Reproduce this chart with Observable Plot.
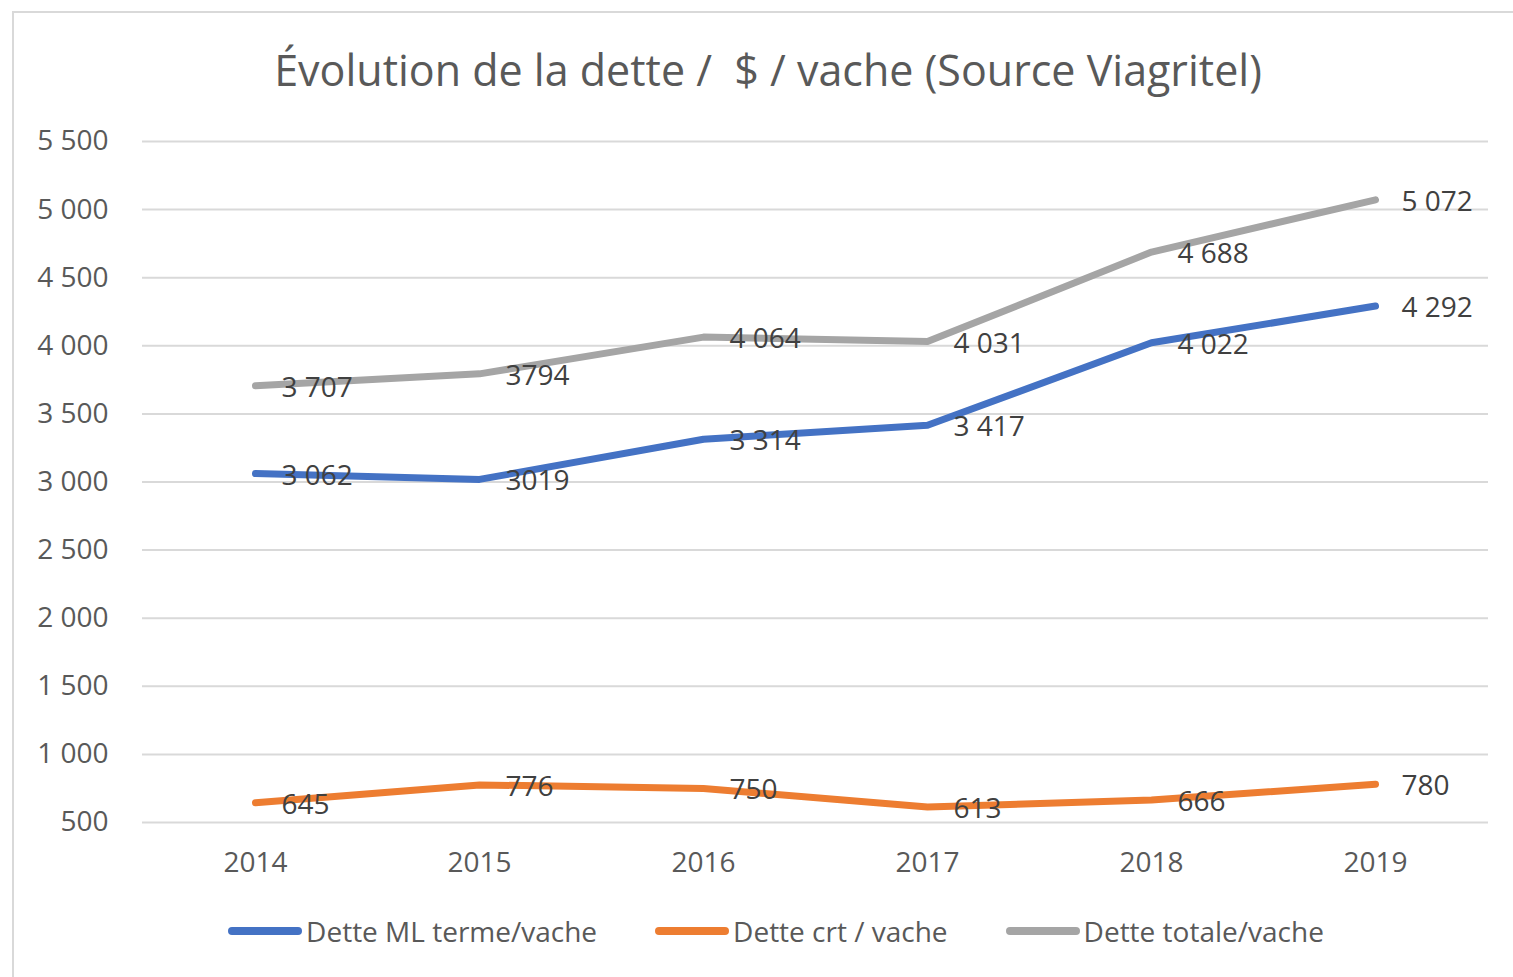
<!DOCTYPE html>
<html>
<head>
<meta charset="utf-8">
<script src="https://cdn.jsdelivr.net/npm/d3@7"></script>
<script src="https://cdn.jsdelivr.net/npm/@observablehq/plot@0.6"></script>
<style>
  html, body { margin: 0; padding: 0; width: 1513px; height: 977px; overflow: hidden; background: #fff; font-family: "Open Sans", "DejaVu Sans", sans-serif; }
  #frame { position: absolute; left: 12px; top: 11px; width: 1600px; height: 1000px; border: 2px solid #d9d9d9; box-sizing: border-box; }
  #title { position: absolute; left: 0; width: 1536px; top: 40px; text-align: center; font-size: 43px; color: #595959; line-height: 60px; white-space: pre; }
  #chart { position: absolute; left: 0; top: 110px; }
  #legend { position: absolute; left: 0; width: 1552px; top: 912px; display: flex; justify-content: center; gap: 58px; font-size: 28px; color: #595959; }
  .item { display: flex; align-items: center; gap: 4px; }
  .item svg { display: block; }
</style>
</head>
<body>
<div id="frame"></div>
<div id="title">Évolution de la dette /  $ / vache (Source Viagritel)</div>
<div id="chart"></div>
<div id="legend"></div>
<script>
const years = ["2014", "2015", "2016", "2017", "2018", "2019"];
const seriesNames = ["Dette ML terme/vache", "Dette crt / vache", "Dette totale/vache"];
const seriesColors = ["#4472C4", "#ED7D31", "#A5A5A5"];
const detteML = [3062, 3019, 3314, 3417, 4022, 4292];
const detteCrt = [645, 776, 750, 613, 666, 780];
const detteTotale = [3707, 3794, 4064, 4031, 4688, 5072];
const labelsML = ["3 062", "3019", "3 314", "3 417", "4 022", "4 292"];
const labelsCrt = ["645", "776", "750", "613", "666", "780"];
const labelsTotale = ["3 707", "3794", "4 064", "4 031", "4 688", "5 072"];
const yTicks = [500, 1000, 1500, 2000, 2500, 3000, 3500, 4000, 4500, 5000, 5500];

const seriesValues = [detteML, detteCrt, detteTotale];
const seriesLabels = [labelsML, labelsCrt, labelsTotale];
const data = [];
seriesNames.forEach((s, i) => {
  years.forEach((y, j) => {
    data.push({series: s, year: y, value: seriesValues[i][j], label: seriesLabels[i][j]});
  });
});

const fr = d3.formatLocale({decimal: ",", thousands: " ", grouping: [3], currency: ["", ""]});
const fmt = fr.format(",d");

const chart = Plot.plot({
  width: 1513,
  height: 790,
  marginLeft: 142,
  marginRight: 25,
  marginTop: 31,
  marginBottom: 78,
  style: {fontFamily: '"Open Sans", "DejaVu Sans", sans-serif', fontSize: "28px", color: "#595959", background: "transparent"},
  x: {type: "point", domain: years, padding: 0.5, label: null},
  y: {domain: [500, 5500], label: null},
  color: {domain: seriesNames, range: seriesColors},
  marks: [
    Plot.gridY(yTicks, {stroke: "#d9d9d9", strokeOpacity: 1, strokeWidth: 2}),
    Plot.axisY(yTicks, {tickSize: 0, tickPadding: 34, tickFormat: fmt, fontSize: 28, fill: "#595959", label: null}),
    Plot.axisX({tickSize: 0, tickPadding: 30, fontSize: 28, fill: "#595959", label: null}),
    Plot.line(data, {x: "year", y: "value", z: "series", stroke: "series", strokeWidth: 7, strokeLinecap: "round", strokeLinejoin: "round"}),
    Plot.text(data, {x: "year", y: "value", text: "label", dx: 26, dy: 2, textAnchor: "start", fontSize: 28, fill: "#404040"})
  ]
});
document.getElementById("chart").appendChild(chart);

const legend = document.getElementById("legend");
seriesNames.forEach((s, i) => {
  const item = document.createElement("div");
  item.className = "item";
  item.innerHTML = `<svg width="74" height="12"><line x1="4" y1="6" x2="70" y2="6" stroke="${seriesColors[i]}" stroke-width="8" stroke-linecap="round"/></svg><span>${s}</span>`;
  legend.appendChild(item);
});
</script>
</body>
</html>
